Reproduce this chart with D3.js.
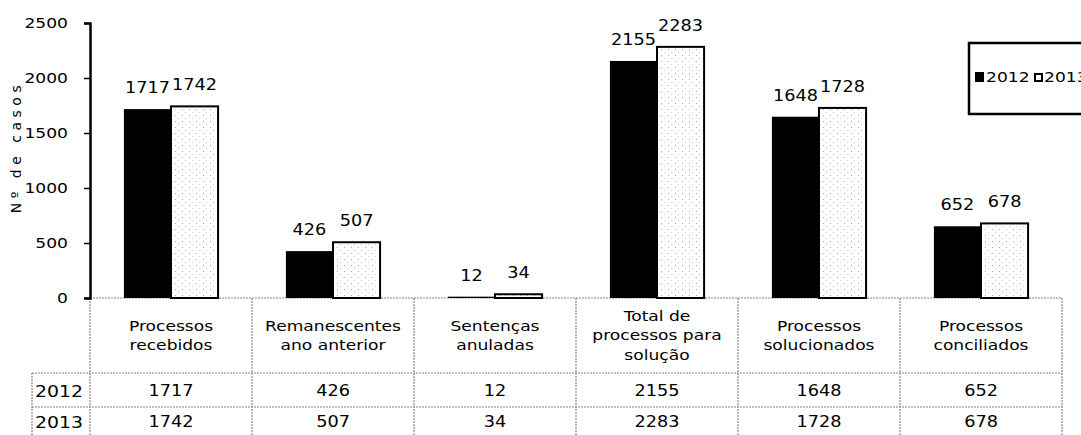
<!DOCTYPE html>
<html>
<head>
<meta charset="utf-8">
<script src="https://cdn.jsdelivr.net/npm/d3@7"></script>
<style>
  body { margin: 0; background: #fff; }
  text { font-family: "DejaVu Sans", sans-serif; fill: #000; }
</style>
</head>
<body>
<script>
// chart data
var categories = [
  "Processos recebidos",
  "Remanescentes ano anterior",
  "Sentenças anuladas",
  "Total de processos para solução",
  "Processos solucionados",
  "Processos conciliados"
];
// how each category label is broken in the table header
var categoryLines = [
  ["Processos", "recebidos"],
  ["Remanescentes", "ano anterior"],
  ["Sentenças", "anuladas"],
  ["Total de", "processos para", "solução"],
  ["Processos", "solucionados"],
  ["Processos", "conciliados"]
];
var years = ["2012", "2013"];
var values2012 = [1717, 426, 12, 2155, 1648, 652];
var values2013 = [1742, 507, 34, 2283, 1728, 678];
var yTicks = [0, 500, 1000, 1500, 2000, 2500];

var W = 1081, H = 435;
var SX = 1.18; // the original text is drawn a bit wide
var svg = d3.select("body").append("svg")
    .attr("width", W)
    .attr("height", H);

// puts a text at (x,y) stretched horizontally
function place(sel, fx, fy) {
  sel.attr("transform", function(d, i) {
    return "translate(" + fx(d, i) + "," + fy(d, i) + ") scale(" + SX + ",1)";
  });
}

// stipple fill used by the 2013 bars
var defs = svg.append("defs");
var pat = defs.append("pattern")
    .attr("id", "stipple")
    .attr("patternUnits", "userSpaceOnUse")
    .attr("width", 7)
    .attr("height", 6);
pat.append("rect").attr("width", 7).attr("height", 6).attr("fill", "#fff");
pat.append("rect").attr("x", 1).attr("y", 1).attr("width", 1).attr("height", 1).attr("fill", "#aaa");
pat.append("rect").attr("x", 4).attr("y", 4).attr("width", 1).attr("height", 1).attr("fill", "#ccc");

var x0 = d3.scaleBand().domain(categories).range([90, 1062]);
var x1 = d3.scaleBand().domain(years).range([0, x0.bandwidth()])
    .paddingInner(0).paddingOuter(0.72);
var y = d3.scaleLinear().domain([0, 2500]).range([298, 23]);

// table grid first so the axis draws over it
var table = svg.append("g").attr("stroke", "#888").attr("stroke-width", 1.2)
    .attr("stroke-dasharray", "2,1");
var tableRight = x0.range()[1];
table.append("line").attr("x1", 90).attr("x2", tableRight).attr("y1", y(0)).attr("y2", y(0));
table.append("line").attr("x1", 32).attr("x2", tableRight).attr("y1", 373).attr("y2", 373);
table.append("line").attr("x1", 32).attr("x2", tableRight).attr("y1", 407).attr("y2", 407);
table.append("line").attr("x1", 32).attr("x2", 32).attr("y1", 373).attr("y2", H);
table.append("line").attr("x1", 90).attr("x2", 90).attr("y1", y(0)).attr("y2", H);
table.selectAll("line.col")
    .data(categories)
    .enter().append("line")
    .attr("class", "col")
    .attr("x1", function(d) { return x0(d) + x0.bandwidth(); })
    .attr("x2", function(d) { return x0(d) + x0.bandwidth(); })
    .attr("y1", y(0))
    .attr("y2", H);

// y axis
var yAxis = svg.append("g")
    .attr("transform", "translate(90,0)")
    .call(d3.axisLeft(y).tickValues(yTicks).tickFormat(d3.format("d")).tickSize(6));
yAxis.select(".domain").attr("stroke", "#000").attr("stroke-width", 2.5);
yAxis.selectAll(".tick line").attr("stroke", "#000").attr("stroke-width", 1.5);
yAxis.selectAll(".tick text")
    .attr("x", -22 / SX)
    .attr("transform", "scale(" + SX + ",1)")
    .style("font-size", "14.5px")
    .style("font-family", "DejaVu Sans, sans-serif");

svg.append("text")
    .attr("transform", "translate(21,147) rotate(-90)")
    .attr("text-anchor", "middle")
    .style("font-size", "14px")
    .style("letter-spacing", "4.5px")
    .text("Nº de casos");

// bars
var rows = categories.map(function(c, i) {
  return {cat: c, vals: [
    {year: "2012", v: values2012[i]},
    {year: "2013", v: values2013[i]}
  ]};
});

var groups = svg.append("g").selectAll("g")
    .data(rows)
    .enter().append("g")
    .attr("transform", function(d) { return "translate(" + x0(d.cat) + ",0)"; });

groups.selectAll("rect")
    .data(function(d) { return d.vals; })
    .enter().append("rect")
    .attr("x", function(d) { return x1(d.year); })
    .attr("y", function(d) { return y(d.v); })
    .attr("width", x1.bandwidth())
    .attr("height", function(d) { return y(0) - y(d.v); })
    .attr("fill", function(d) { return d.year == "2012" ? "#000" : "url(#stipple)"; })
    .attr("stroke", "#000")
    .attr("stroke-width", function(d) { return d.year == "2012" ? 0 : 2; });

groups.selectAll("text.val")
    .data(function(d) { return d.vals; })
    .enter().append("text")
    .attr("class", "val")
    .attr("text-anchor", "middle")
    .style("font-size", "15px")
    .call(place,
      function(d) { return x1(d.year) + x1.bandwidth() / 2; },
      function(d) { return y(d.v) - 16; })
    .text(function(d) { return d.v; });

// table header with category names
svg.append("g").selectAll("text")
    .data(categories)
    .enter().append("text")
    .attr("text-anchor", "middle")
    .style("font-size", "14.5px")
    .call(place,
      function(d) { return x0(d) + x0.bandwidth() / 2; },
      function(d, i) { return 335.5 - (categoryLines[i].length - 1) * 10 + 5; })
    .each(function(d, i) {
      var t = d3.select(this);
      categoryLines[i].forEach(function(line, k) {
        t.append("tspan")
          .attr("x", 0)
          .attr("dy", k == 0 ? 0 : 20)
          .text(line);
      });
    });

// table rows with values
var valueRows = [values2012, values2013];
var rowMid = [391, 422];
valueRows.forEach(function(vals, r) {
  svg.append("text")
    .style("font-size", "16px")
    .attr("transform", "translate(35," + (rowMid[r] + 6) + ") scale(" + SX + ",1)")
    .text(years[r]);
  svg.append("g").selectAll("text")
    .data(vals)
    .enter().append("text")
    .attr("text-anchor", "middle")
    .style("font-size", "15px")
    .call(place,
      function(d, i) { return x0(categories[i]) + x0.bandwidth() / 2; },
      function() { return rowMid[r] + 5; })
    .text(function(d) { return d; });
});

// legend, runs off the right edge like the original
var legend = svg.append("g");
legend.append("rect")
    .attr("x", 969).attr("y", 43)
    .attr("width", 130).attr("height", 71)
    .attr("fill", "#fff")
    .attr("stroke", "#000")
    .attr("stroke-width", 2.5);
legend.append("rect")
    .attr("x", 975).attr("y", 72).attr("width", 9).attr("height", 10)
    .attr("fill", "#000");
legend.append("text")
    .attr("transform", "translate(986,82) scale(" + SX + ",1)")
    .style("font-size", "14.5px").text("2012");
legend.append("rect")
    .attr("x", 1035).attr("y", 74).attr("width", 7).attr("height", 7)
    .attr("fill", "#fff").attr("stroke", "#000").attr("stroke-width", 2);
legend.append("text")
    .attr("transform", "translate(1044,82) scale(" + SX + ",1)")
    .style("font-size", "14.5px").text("2013");
</script>
</body>
</html>
